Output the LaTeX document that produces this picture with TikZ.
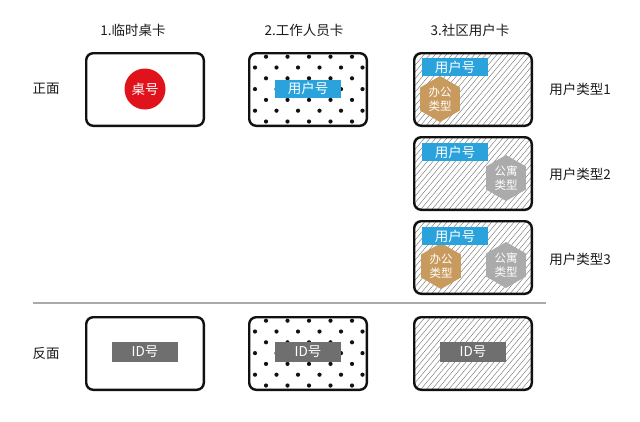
\documentclass[tikz,border=0pt]{standalone}
\usepackage{fontspec}
\setmainfont{Noto Sans CJK SC}
\usepackage{xcolor}
\usepackage{tikz}
\usetikzlibrary{calc,shapes.geometric,positioning}
\definecolor{ink}{HTML}{1A1A1A}
\definecolor{rim}{HTML}{111111}
\definecolor{deskred}{HTML}{E0121C}
\definecolor{userblue}{HTML}{2AA2DC}
\definecolor{office}{HTML}{C99A5E}
\definecolor{flat}{HTML}{ABABAB}
\definecolor{idgray}{HTML}{6F6F6F}
\definecolor{rule}{HTML}{AAAAAA}
\definecolor{hatch}{HTML}{7A7A7A}
\tikzset{
  card/.style={draw=rim, line width=2.4pt, rounded corners=7pt, minimum width=117.6pt, minimum height=72.6pt, inner sep=0pt},
  dotcard/.style={card, path picture={
    \foreach \j in {0,...,3}{
      \foreach \i in {0,...,5}{
        \fill[rim] ($(path picture bounding box.north west)+(\i*21.5+16.8,\j*21.6+3.5)$) circle (2.1pt);
        \fill[rim] ($(path picture bounding box.north west)+(\i*21.5+5.8,\j*21.6+14.3)$) circle (2.1pt);
      }}}},
  hatchcard/.style={card, path picture={
    \foreach \k in {-14,...,22}
      \draw[hatch, line width=0.45pt] ($(path picture bounding box.north west)+(\k*5.6,80)$) -- ++(67,-80);}},
  disc/.style={circle, fill=deskred, text=white, minimum size=41pt, inner sep=0pt, font=\fontsize{13.5pt}{15pt}\selectfont},
  usertag/.style={fill=userblue, text=white, minimum width=66pt, minimum height=18pt, inner sep=0pt, font=\fontsize{13.5pt}{15pt}\selectfont},
  idtag/.style={fill=idgray, text=white, minimum width=66pt, minimum height=20pt, inner sep=0pt, font=\fontsize{13.5pt}{15pt}\selectfont},
  hexa/.style={regular polygon, regular polygon sides=6, shape border rotate=30, minimum size=46pt, inner sep=0pt, text=white, align=center, font=\fontsize{11.5pt}{13.5pt}\selectfont},
  workhex/.style={hexa, fill=office},
  flathex/.style={hexa, fill=flat},
  divide/.style={draw=rule, line width=1.5pt},
  lab/.style={text=ink, font=\fontsize{13.5pt}{15pt}\selectfont},
}
\begin{document}
\begin{tikzpicture}[x=1pt,y=-1pt]
\useasboundingbox (0,0) rectangle (640,421);
% column heads
\node[lab] (head1) at (133,30) {1.临时桌卡};
\node[lab] (head2) at (304,30) {2.工作人员卡};
\node[lab] (head3) at (470,30) {3.社区用户卡};
\node[lab] (front) at (46,89) {正面};
\node[lab] (back) at (46,353) {反面};
% front side
\node[card] (desk) at (145,89.5) {};
\node[dotcard] (staff) at (308,89.5) {};
\node[hatchcard] (userA) at (473,89.5) {};
\node[hatchcard] (userB) at (473,173.5) {};
\node[hatchcard] (userC) at (473,257.5) {};
\node[disc] (deskno) at (145,89) {桌号};
\node[usertag] (staffno) at (308,88.5) {用户号};
\node[workhex] (workA) at (440,99) {办公\\类型};
\node[flathex] (flatB) at (506,178) {公寓\\类型};
\node[workhex] (workC) at (441,266) {办公\\类型};
\node[flathex] (flatC) at (506,265) {公寓\\类型};
\node[usertag] (userAno) at (455,67) {用户号};
\node[usertag] (userBno) at (455,152) {用户号};
\node[usertag] (userCno) at (455,236) {用户号};
\node[lab] (typeA) at (580,89) {用户类型1};
\node[lab] (typeB) at (580,174) {用户类型2};
\node[lab] (typeC) at (580,259) {用户类型3};
% divider
\coordinate (divL) at (33,303);
\coordinate (divR) at (546,303);
\draw[divide] (divL) -- (divR);
% back side
\node[card] (deskB) at (145,353.5) {};
\node[dotcard] (staffB) at (308,353.5) {};
\node[hatchcard] (userD) at (473,353.5) {};
\node[idtag] (idA) at (145,352) {ID号};
\node[idtag] (idB) at (308,352) {ID号};
\node[idtag] (idC) at (473,352) {ID号};
\end{tikzpicture}
\end{document}
